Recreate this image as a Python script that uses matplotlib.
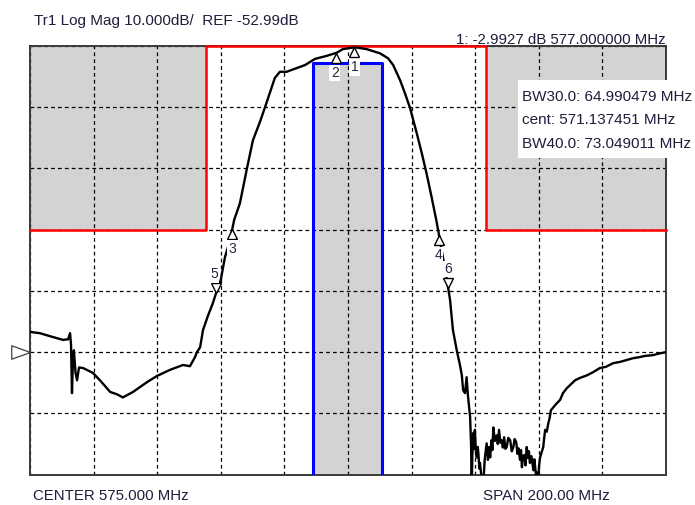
import numpy as np
import matplotlib
matplotlib.use("Agg")
import matplotlib.pyplot as plt
from matplotlib.patches import Rectangle
from matplotlib.transforms import offset_copy

plt.rcParams['font.family'] = ['Liberation Sans', 'DejaVu Sans']

# analyzer settings
center_mhz = 575.0
span_mhz = 200.0
ref_db = -52.99
db_per_div = 10.0
ref_div_from_top = 5
n_ydiv = 7

top_db = ref_db + ref_div_from_top * db_per_div
bot_db = top_db - n_ydiv * db_per_div
f_lo = center_mhz - span_mhz / 2
f_hi = center_mhz + span_mhz / 2

# trace (MHz, dB)
freq_mhz = [475.0, 478.1, 481.3, 485.4, 487.0, 487.6, 487.9, 488.2, 488.5, 488.8,
            489.3, 489.8, 490.4, 491.7, 494.8, 497.0, 500.2, 502.4, 504.2, 507.4,
            511.8, 514.9, 519.0, 523.1, 525.3, 526.9, 527.5, 528.5, 529.4, 531.0,
            532.5, 533.8, 535.0, 536.3, 537.9, 539.2, 541.0, 543.1, 545.1, 547.3,
            548.9, 550.5, 552.0, 553.6, 555.7, 558.9, 561.5, 564.6, 568.3, 571.4,
            573.4, 577.2, 580.9, 585.1, 587.6, 589.2, 591.4, 592.9, 594.5, 596.6,
            598.2, 599.7, 601.3, 602.9, 603.9, 606.0, 607.1, 608.0, 609.2, 610.2,
            610.8, 611.2, 611.8, 612.3, 612.7,
            613.4, 613.7, 613.9, 614.1, 614.4, 614.7, 614.9, 615.2, 615.5, 615.8,
            616.0, 616.3, 616.5, 617.0, 617.5, 618.0, 618.6, 619.0, 619.4, 619.7,
            620.1, 620.4, 620.7, 621.2, 621.8, 622.1, 622.5, 622.9, 623.3, 623.7,
            624.1, 624.5, 624.9, 625.4, 626.0, 626.5, 627.0, 627.4, 627.9, 628.3,
            628.6, 629.1, 629.4, 629.7, 630.0, 630.4, 630.8, 631.2, 631.6, 631.9,
            632.2, 632.7, 633.3, 633.6, 633.8, 634.1, 634.3, 634.7, 635.1, 635.4,
            635.8, 636.4, 636.7, 637.0, 637.5, 638.0, 638.4, 638.8,
            639.6, 640.4, 641.7, 642.6, 643.8, 644.8, 646.4, 648.0,
            650.1, 652.0, 654.2, 656.1, 658.4, 660.5, 662.6, 664.6, 666.8, 668.6,
            670.8, 673.1, 675.0]
trace_db = [-49.7, -49.9, -50.4, -51.0, -50.9, -49.9, -51.8, -59.7, -54.3, -52.7,
            -56.3, -57.6, -55.5, -55.6, -56.4, -57.6, -59.5, -59.9, -60.4, -59.5,
            -57.9, -56.9, -55.9, -55.1, -55.3, -53.8, -53.0, -52.2, -49.4, -47.0,
            -45.0, -42.9, -41.2, -37.5, -34.7, -31.4, -28.7, -23.3, -18.4, -15.4,
            -13.0, -10.5, -8.2, -7.2, -7.2, -6.6, -6.1, -5.1, -4.6, -4.1,
            -3.5, -3.2, -3.5, -4.2, -5.0, -6.1, -8.6, -10.7, -13.1, -17.2,
            -20.5, -23.8, -27.7, -31.8, -34.7, -40.9, -44.5, -49.4, -52.7, -55.1,
            -56.8, -59.2, -59.7, -57.1, -60.0,
            -63.6, -68.0, -75.0, -70.0, -66.2, -68.8, -65.7, -69.0, -70.2, -68.5,
            -69.5, -72.0, -71.1, -73.5, -75.0, -70.5, -67.9, -70.6, -68.5, -70.2,
            -67.4, -69.0, -65.3, -67.5, -66.6, -68.0, -65.7, -67.8, -67.4, -68.6,
            -66.9, -68.8, -68.5, -67.0, -67.4, -69.2, -68.5, -67.2, -67.7, -69.6,
            -68.7, -70.6, -69.0, -71.8, -70.0, -69.8, -71.5, -68.5, -70.3, -69.2,
            -71.1, -70.0, -72.3, -70.5, -71.5, -73.0, -72.6, -75.0, -71.5, -70.2,
            -69.5, -68.5, -67.0, -65.7, -66.0, -64.6, -63.8, -62.5,
            -62.0, -61.5, -60.8, -59.7, -58.9, -58.4, -57.6, -57.2,
            -56.8, -56.3, -55.6, -55.4, -54.8, -54.6, -54.3, -54.0, -53.8, -53.6,
            -53.5, -53.2, -53.0]

# limit lines
upper_f = [475.0, 530.5, 530.5, 618.5, 618.5, 675.0]
upper_db = [-32.99, -32.99, -2.99, -2.99, -32.99, -32.99]
lower_f = [564.0, 585.6]
lower_db = -5.7

# markers: number, frequency, pointing up (below trace) or down (above trace)
mk_num = ['1', '2', '3', '4', '5', '6']
mk_freq = [577.0, 571.14, 538.64, 603.63, 533.5, 606.5]
mk_up = [True, True, True, True, False, False]

readout = "1: -2.9927 dB 577.000000 MHz"
bw_lines = ["BW30.0: 64.990479 MHz", "cent: 571.137451 MHz", "BW40.0: 73.049011 MHz"]

W, H = 695, 505
fig = plt.figure(figsize=(W / 100, H / 100), dpi=100)
ax = fig.add_axes([30 / W, 1 - 474.5 / H, 636 / W, 428.5 / H])
ax.set_xlim(f_lo, f_hi)
ax.set_ylim(bot_db, top_db)
ax.set_xticks(np.arange(f_lo, f_hi + 1, span_mhz / 10))
ax.set_yticks(np.arange(bot_db, top_db + 0.01, db_per_div))
ax.tick_params(length=0, labelbottom=False, labelleft=False)
ax.set_axisbelow(True)
ax.grid(True, color='black', linewidth=0.9, linestyle=(0, (3, 2.5)))
for s in ax.spines.values():
    s.set_color('#3a3a3a')
    s.set_linewidth(1.4)

gray = '#d3d3d3'
# upper limit (gray above the red line)
ax.fill_between(upper_f[:2], upper_db[0], top_db, color=gray, zorder=0.3, lw=0)
ax.fill_between(upper_f[-2:], upper_db[-1], top_db, color=gray, zorder=0.3, lw=0)
ax.plot(upper_f, upper_db, color='#ff0000', lw=1.8, zorder=3, clip_on=False)
# lower limit (gray below the blue line)
ax.fill_between(lower_f, bot_db, lower_db, color=gray, zorder=0.3, lw=0)
ax.plot([lower_f[0], lower_f[0], lower_f[1], lower_f[1]],
        [bot_db, lower_db, lower_db, bot_db], color='#0000ff', lw=2.2, zorder=3)

ax.plot(freq_mhz, trace_db, color='black', lw=1.7, zorder=4)

# marker triangles with apex on the trace (shifted by half their height)
tri_px = 10
for num, f, up in zip(mk_num, mk_freq, mk_up):
    d = float(np.interp(f, freq_mhz, trace_db))
    shift = -tri_px / 2 if up else tri_px / 2
    tr = offset_copy(ax.transData, fig=fig, x=0, y=shift, units='dots')
    ax.plot([f], [d], marker='^' if up else 'v', markersize=7.5, transform=tr,
            markerfacecolor='white', markeredgecolor='black', markeredgewidth=1.0,
            zorder=10, clip_on=False)
    dx = -1 if num in ('2', '4') else (-2 if num == '5' else 0)
    dy = -20 if up else 19
    ax.annotate(num, (f, d), xytext=(dx, dy), textcoords='offset pixels',
                ha='center', va='center', fontsize=10, color='#262640',
                bbox=dict(boxstyle='square,pad=0.1', fc='white', ec='none'), zorder=11)

# reference level arrow on the left
ax.plot([f_lo], [ref_db], marker=[(0, 0), (-1, 0.36), (-1, -0.36), (0, 0)],
        markersize=27, markerfacecolor='white', markeredgecolor='#404040',
        markeredgewidth=0.9, clip_on=False, zorder=6)

# bandwidth box
ax.add_patch(Rectangle((488 / 636, (474.5 - 158) / 428.5), (695 - 518) / 636, 78 / 428.5,
                       transform=ax.transAxes, facecolor='white', edgecolor='none',
                       clip_on=False, zorder=7))
for i, t in enumerate(bw_lines):
    fig.text(522 / W, 1 - (97 + 23.5 * i) / H, t, ha='left', va='center',
             fontsize=11, color='#1e1e3c', zorder=8)

tc = '#1e1e3c'
fig.text(34 / W, 1 - 21 / H, "Tr1 Log Mag 10.000dB/  REF -52.99dB", ha='left',
         va='center', fontsize=11, color=tc)
fig.text(666 / W, 1 - 44 / H, readout, ha='right', va='baseline', fontsize=10.8, color=tc)
fig.text(33 / W, 1 - 496 / H, "CENTER 575.000 MHz", ha='left', va='center',
         fontsize=10.8, color=tc)
fig.text(483 / W, 1 - 496 / H, "SPAN 200.00 MHz", ha='left', va='center',
         fontsize=11, color=tc)

fig.savefig('out.png', dpi=100)
